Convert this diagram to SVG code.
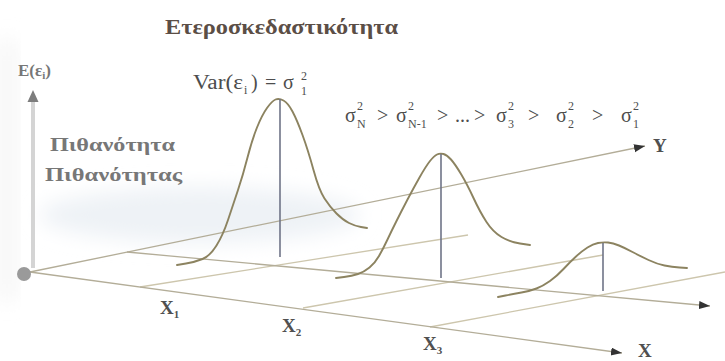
<svg xmlns="http://www.w3.org/2000/svg" width="725" height="361" viewBox="0 0 725 361">
<style>
.ser{font-family:"Liberation Serif","DejaVu Serif",serif}
.title{font-weight:bold;font-size:22px;fill:#5b4e46}
.lbl{font-weight:bold;fill:#777}
.ax{font-weight:bold;font-size:19px;fill:#505050}
.f{font-size:20px;fill:#4d4d4d}
.s{font-size:12px;fill:#4d4d4d}
.grid{stroke:#cdc6ad;stroke-width:1.3;fill:none}
.axis{stroke:#b3ad98;stroke-width:1.3;fill:none}
.curve{stroke:#8c8360;stroke-width:1.9;fill:none;stroke-linecap:round;stroke-linejoin:round}
.vert{stroke:#6f7487;stroke-width:1.6}
</style>
<defs>
<marker id="arr" markerUnits="userSpaceOnUse" markerWidth="12" markerHeight="10" refX="11" refY="4" orient="auto"><path d="M0,0 L11,4 L0,8 Z" fill="#333"/></marker>
<filter id="blur" x="-50%" y="-50%" width="200%" height="200%"><feGaussianBlur stdDeviation="10"/></filter>
</defs>
<rect width="725" height="361" fill="#fff"/>
<g id="background">
<ellipse cx="200" cy="215" rx="160" ry="28" fill="#eef2f6" filter="url(#blur)"/>
<rect x="0" y="40" width="14" height="260" fill="#f3f3f3" filter="url(#blur)"/>
</g>
<g id="title"><text class="ser title" x="165" y="34" textLength="233" lengthAdjust="spacingAndGlyphs">Ετεροσκεδαστικότητα</text></g>
<g id="vertical-axis">
<line x1="33" y1="102" x2="33" y2="268" stroke="#d4d4d4" stroke-width="4"/>
<polygon points="33,90 27.5,102 38.5,102" fill="#7d7d7d"/>
<text class="ser lbl" x="18" y="76" font-size="17">E(ε<tspan font-size="11" dy="3">i</tspan><tspan dy="-3">)</tspan></text>
<text class="ser lbl" x="50" y="151" font-size="18" textLength="125" lengthAdjust="spacingAndGlyphs">Πιθανότητα</text>
<text class="ser lbl" x="45" y="181" font-size="18" textLength="137" lengthAdjust="spacingAndGlyphs">Πιθανότητας</text>
</g>
<g id="connectors">
<line class="grid" x1="140" y1="287" x2="468" y2="235"/>
<line class="grid" x1="303" y1="308" x2="603" y2="255"/>
<line class="grid" x1="430" y1="327" x2="725" y2="272"/>
<line class="axis" x1="30" y1="272" x2="645" y2="146" marker-end="url(#arr)"/>
<line class="axis" x1="127" y1="252" x2="710" y2="306" marker-end="url(#arr)"/>
<line class="axis" x1="30" y1="272" x2="622" y2="353" marker-end="url(#arr)"/>
</g>
<circle id="origin" cx="24" cy="274" r="7" fill="#9a9a9a"/>
<g id="density-1">
<path class="curve" d="M177,265 L186,263.5 Q195,262 202.5,259 Q210,256 216.5,245.5 Q223,235 228,220 Q233,205 238,190 Q243,175 247.5,157.5 Q252,140 257,127.5 Q262,115 267,108 Q272,101 275.5,99.5 Q279,98 283.5,100.5 Q288,103 292.5,111.5 Q297,120 302.5,135 Q308,150 313.5,170 Q319,190 324.5,198.5 Q330,207 336.5,213.5 Q343,220 349,223 Q355,226 361,227 L367,228"/>
<line class="vert" x1="280" y1="99" x2="280" y2="257"/>
</g>
<g id="density-2">
<path class="curve" d="M336,278 L344,277 Q352,276 358,274 Q364,272 369.5,267.5 Q375,263 379,256 Q383,249 387.5,239.5 Q392,230 396.5,221 Q401,212 407,200.5 Q413,189 419.5,177.5 Q426,166 430,161 Q434,156 437,154.5 Q440,153 443.5,154 Q447,155 451,159.5 Q455,164 461,174 Q467,184 473.5,198 Q480,212 486.5,222 Q493,232 501.5,237 Q510,242 520,243.5 L530,245"/>
<line class="vert" x1="441" y1="154" x2="441" y2="278"/>
</g>
<g id="density-3">
<path class="curve" d="M498,297 L505.5,295.5 Q513,294 521.5,292.5 Q530,291 536.5,288.5 Q543,286 550,281 Q557,276 563.5,269 Q570,262 576,256.5 Q582,251 587.5,247.5 Q593,244 598,243 Q603,242 608,242.5 Q613,243 619,245.5 Q625,248 632.5,252 Q640,256 648.5,260 Q657,264 664.5,265.5 Q672,267 679.5,267.5 L687,268"/>
<line class="vert" x1="603" y1="243" x2="603" y2="291"/>
</g>
<g id="var-label">
<text class="ser f" x="193" y="89" font-size="21" textLength="50" lengthAdjust="spacingAndGlyphs">Var(ε</text>
<text class="ser s" x="244" y="94" font-size="13">i</text>
<text class="ser f" x="251" y="89" font-size="21">)</text>
<text class="ser f" x="265" y="89" font-size="21">=</text>
<text class="ser f" x="283" y="89" font-size="21">σ</text>
<text class="ser s" x="301" y="80">2</text>
<text class="ser s" x="301" y="95">1</text>
</g>
<g id="inequality">
<text class="ser f" x="345" y="122">σ</text><text class="ser s" x="357" y="110">2</text><text class="ser s" x="357" y="128">N</text>
<text class="ser f" x="377" y="122">&gt;</text>
<text class="ser f" x="396" y="122">σ</text><text class="ser s" x="408" y="110">2</text><text class="ser s" x="408" y="128">N-1</text>
<text class="ser f" x="437" y="122">&gt;</text>
<text class="ser f" x="455" y="122">...</text>
<text class="ser f" x="474" y="122">&gt;</text>
<text class="ser f" x="496" y="122">σ</text><text class="ser s" x="508" y="110">2</text><text class="ser s" x="508" y="128">3</text>
<text class="ser f" x="528" y="122">&gt;</text>
<text class="ser f" x="556" y="122">σ</text><text class="ser s" x="568" y="110">2</text><text class="ser s" x="568" y="128">2</text>
<text class="ser f" x="592" y="122">&gt;</text>
<text class="ser f" x="621" y="122">σ</text><text class="ser s" x="633" y="110">2</text><text class="ser s" x="633" y="128">1</text>
</g>
<g id="axis-labels">
<text class="ser ax" x="653" y="152">Y</text>
<text class="ser ax" x="638" y="357">X</text>
<text class="ser ax" x="160" y="314">X<tspan font-size="11" dy="4">1</tspan></text>
<text class="ser ax" x="282" y="332">X<tspan font-size="11" dy="4">2</tspan></text>
<text class="ser ax" x="423" y="350">X<tspan font-size="11" dy="4">3</tspan></text>
</g>
</svg>
